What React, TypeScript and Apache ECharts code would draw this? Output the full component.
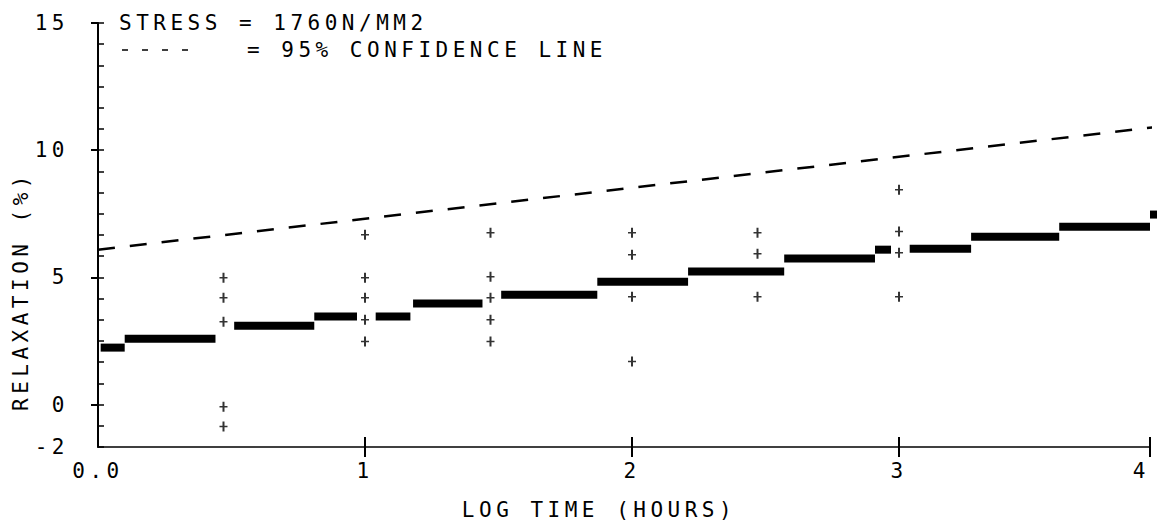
import { useEffect, useRef } from 'react';
import * as echarts from 'echarts';

// ---- axis ticks / labels ----
const xTickValues = [0, 1, 2, 3, 3.94];
const xTickLabels = ['0.0', '1', '2', '3', '4'];
const xMajorTicks = [1, 2, 3, 3.94];
const yLabelValues = [-5 / 3, 0, 5, 10, 15];
const yTickLabels = ['-2', '0', '5', '10', '15'];
const yMajorTicks = [0, 5, 10, 15];
const yMinorTicks: number[] = [];
for (let k = -2; k <= 18; k++) yMinorTicks.push((k * 5) / 6);

// ---- mean relaxation steps (log time start, end, relaxation %) ----
const stepStart = [0.01, 0.10, 0.51, 0.81, 1.04, 1.18, 1.51, 1.87, 2.21, 2.57, 2.91, 3.04, 3.27, 3.60, 3.94];
const stepEnd = [0.10, 0.44, 0.81, 0.97, 1.17, 1.44, 1.87, 2.21, 2.57, 2.91, 2.97, 3.27, 3.60, 3.94, 3.97];
const stepRelaxation = [2.24, 2.59, 3.10, 3.46, 3.46, 3.97, 4.32, 4.83, 5.23, 5.74, 6.09, 6.13, 6.60, 6.99, 7.47];

// ---- individual test results ----
const sampleLogTimes = [0.47, 1.0, 1.47, 2.0, 2.47, 3.0];
const samplesAt0 = [4.99, 4.20, 3.26, -0.08, -0.86];
const samplesAt1 = [6.68, 4.99, 4.20, 3.34, 2.48];
const samplesAt2 = [6.76, 5.03, 4.20, 3.34, 2.48];
const samplesAt3 = [6.76, 5.89, 4.24, 1.69];
const samplesAt4 = [6.76, 5.93, 4.24];
const samplesAt5 = [8.45, 6.80, 5.97, 4.24];
const sampleGroups = [samplesAt0, samplesAt1, samplesAt2, samplesAt3, samplesAt4, samplesAt5];

// ---- 95% confidence line ----
const confidenceX = [0, 3.97];
const confidenceY = [6.09, 10.92];

const FONT = '"DejaVu Sans Mono", monospace';
const FS = 21;

const lookup = (vals: number[], labels: string[]) => (v: number) => {
  const i = vals.findIndex((t) => Math.abs(t - v) < 1e-6);
  return i >= 0 ? labels[i] : '';
};

export default function App() {
  const ref = useRef<HTMLDivElement>(null);

  useEffect(() => {
    if (!ref.current) return;
    const chart = echarts.init(ref.current, undefined, { renderer: 'svg' });

    const stepData = stepStart.map((s, i) => [s, stepEnd[i], stepRelaxation[i]]);
    const scatterData: number[][] = [];
    sampleGroups.forEach((g, i) => g.forEach((v) => scatterData.push([sampleLogTimes[i], v])));
    const lineData = confidenceX.map((x, i) => [x, confidenceY[i]]);

    const labelStyle = { color: '#000', fontSize: FS, fontFamily: FONT };
    const textStyle = { fill: '#000', fontSize: FS, fontFamily: FONT };

    chart.setOption({
      animation: false,
      backgroundColor: '#fff',
      grid: { left: 98, right: 7, top: 23, bottom: 80, outerBoundsMode: 'none' },
      xAxis: [
        {
          type: 'value',
          min: 0,
          max: 3.94,
          position: 'bottom',
          axisLine: { show: true, onZero: false, lineStyle: { color: '#000', width: 1.6 } },
          axisTick: { show: true, inside: false, length: 10, customValues: xMajorTicks, lineStyle: { color: '#000', width: 2 } },
          axisLabel: {
            ...labelStyle,
            margin: 13,
            alignMaxLabel: 'right',
            customValues: xTickValues,
            formatter: lookup(xTickValues, xTickLabels),
          },
          splitLine: { show: false },
        },
        {
          type: 'value',
          min: 0,
          max: 3.94,
          position: 'bottom',
          axisLine: { show: false, onZero: false },
          axisTick: { show: true, inside: true, length: 10, customValues: xMajorTicks, lineStyle: { color: '#000', width: 2 } },
          axisLabel: { show: false },
          splitLine: { show: false },
        },
      ],
      yAxis: [
        {
          type: 'value',
          min: -5 / 3,
          max: 15,
          position: 'left',
          axisLine: { show: true, onZero: false, lineStyle: { color: '#000', width: 2 } },
          axisTick: { show: true, inside: true, length: 6, customValues: yMinorTicks, lineStyle: { color: '#000', width: 1.5 } },
          axisLabel: { ...labelStyle, margin: 29, customValues: yLabelValues, formatter: lookup(yLabelValues, yTickLabels) },
          splitLine: { show: false },
        },
        {
          type: 'value',
          min: -5 / 3,
          max: 15,
          position: 'left',
          axisLine: { show: false, onZero: false },
          axisTick: { show: true, inside: false, length: 7, customValues: yMajorTicks, lineStyle: { color: '#000', width: 2 } },
          axisLabel: { show: false },
          splitLine: { show: false },
        },
      ],
      series: [
        {
          type: 'custom',
          xAxisIndex: 0,
          yAxisIndex: 0,
          clip: false,
          encode: { x: [0, 1], y: 2 },
          data: stepData,
          renderItem: (_params: any, api: any) => {
            const p0 = api.coord([api.value(0), api.value(2)]);
            const p1 = api.coord([api.value(1), api.value(2)]);
            return {
              type: 'rect',
              shape: { x: p0[0], y: p0[1] - 4, width: p1[0] - p0[0], height: 8 },
              style: { fill: '#000' },
            };
          },
        },
        {
          type: 'scatter',
          xAxisIndex: 0,
          yAxisIndex: 0,
          symbol: 'path://M-1,-5L1,-5L1,5L-1,5Z M-4,-0.75L4,-0.75L4,0.75L-4,0.75Z',
          symbolSize: [8, 10],
          itemStyle: { color: '#000' },
          data: scatterData,
        },
        {
          type: 'line',
          xAxisIndex: 0,
          yAxisIndex: 0,
          clip: false,
          symbol: 'none',
          lineStyle: { color: '#000', width: 2.5, type: [17, 15] },
          data: lineData,
        },
      ],
      graphic: [
        {
          type: 'text',
          x: 119,
          y: 23,
          style: { ...textStyle, text: 'STRESS = 1760N/MM2', align: 'left', verticalAlign: 'middle' },
        },
        {
          type: 'line',
          shape: { x1: 122, y1: 50, x2: 196, y2: 50 },
          style: { stroke: '#000', lineWidth: 1.5, lineDash: [6, 14] },
        },
        {
          type: 'text',
          x: 247,
          y: 50,
          style: { ...textStyle, text: '= 95% CONFIDENCE LINE', align: 'left', verticalAlign: 'middle' },
        },
        {
          type: 'text',
          x: 599,
          y: 510,
          style: { ...textStyle, text: 'LOG TIME (HOURS)', align: 'center', verticalAlign: 'middle' },
        },
        {
          type: 'text',
          x: 21,
          y: 291,
          rotation: Math.PI / 2,
          style: { ...textStyle, text: 'RELAXATION (%)', align: 'center', verticalAlign: 'middle' },
        },
      ],
    });

    return () => chart.dispose();
  }, []);

  return (
    <div
      ref={ref}
      style={{ position: 'fixed', left: 0, top: 0, width: 1157, height: 527, letterSpacing: '4.5px', background: '#fff' }}
    />
  );
}
